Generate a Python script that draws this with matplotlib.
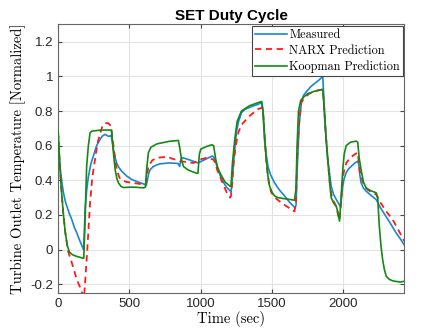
import matplotlib
matplotlib.use('Agg')
import matplotlib.pyplot as plt

# Measured
t_meas = [0, 5, 10, 18, 26, 37, 50, 61, 80, 96, 115, 131, 150, 165, 178, 183, 189, 200,
          212, 230, 247, 270, 294, 310, 329, 350, 364, 372, 380, 390, 400, 410, 425, 445,
          480, 515, 560, 608, 618, 625, 635, 645, 665, 690, 715, 780, 840, 852, 862, 875,
          930, 980, 1030, 1080, 1095, 1110, 1120, 1135, 1150, 1180, 1205, 1212, 1218, 1225,
          1238, 1250, 1265, 1285, 1310, 1340, 1370, 1401, 1427, 1436, 1448, 1460, 1471,
          1490, 1517, 1550, 1587, 1620, 1662, 1668, 1675, 1690, 1705, 1720, 1743, 1770,
          1800, 1830, 1855, 1862, 1870, 1880, 1890, 1914, 1930, 1949, 1977, 1985, 1995,
          2005, 2019, 2035, 2054, 2080, 2100, 2108, 2115, 2124, 2140, 2159, 2190, 2229,
          2260, 2299, 2330, 2369, 2400, 2427]
y_meas = [0.67, 0.58, 0.51, 0.44, 0.39, 0.33, 0.28, 0.25, 0.205, 0.173, 0.125, 0.096,
          0.055, 0.025, 0.0, 0.08, 0.23, 0.34, 0.42, 0.495, 0.54, 0.60, 0.636, 0.655,
          0.665, 0.655, 0.655, 0.66, 0.62, 0.57, 0.53, 0.50, 0.475, 0.453, 0.425, 0.405,
          0.39, 0.376, 0.37, 0.40, 0.44, 0.46, 0.478, 0.488, 0.495, 0.50, 0.497, 0.48,
          0.525, 0.53, 0.515, 0.50, 0.52, 0.54, 0.53, 0.49, 0.46, 0.43, 0.40, 0.36, 0.34,
          0.33, 0.38, 0.45, 0.578, 0.68, 0.74, 0.79, 0.81, 0.82, 0.83, 0.838, 0.85, 0.80,
          0.62, 0.54, 0.48, 0.43, 0.385, 0.345, 0.31, 0.275, 0.24, 0.26, 0.45, 0.72, 0.85,
          0.89, 0.914, 0.94, 0.96, 0.98, 1.0, 0.88, 0.76, 0.62, 0.52, 0.366, 0.32, 0.29,
          0.25, 0.29, 0.366, 0.41, 0.443, 0.465, 0.48, 0.50, 0.51, 0.49, 0.43, 0.385,
          0.355, 0.337, 0.315, 0.289, 0.24, 0.19, 0.15, 0.096, 0.06, 0.025]

# NARX prediction
t_narx = [0, 8, 20, 35, 50, 70, 96, 131, 160, 178, 185, 195, 206, 224, 240, 259, 275,
          294, 310, 329, 350, 364, 375, 388, 400, 411, 430, 446, 480, 528, 598, 615, 633,
          660, 692, 762, 855, 900, 949, 995, 1042, 1089, 1100, 1115, 1136, 1160, 1182,
          1206, 1212, 1220, 1230, 1245, 1265, 1285, 1340, 1400, 1430, 1438, 1450, 1462,
          1478, 1494, 1520, 1564, 1610, 1657, 1667, 1677, 1690, 1705, 1730, 1760, 1800,
          1855, 1862, 1875, 1890, 1905, 1914, 1930, 1949, 1962, 1972, 1982, 1992, 2000,
          2020, 2047, 2080, 2100, 2108, 2115, 2124, 2145, 2170, 2200, 2229, 2260, 2300,
          2345, 2380, 2427]
y_narx = [0.68, 0.55, 0.38, 0.22, 0.10, -0.01, -0.076, -0.173, -0.23, -0.28, -0.24,
          -0.12, 0.02, 0.27, 0.42, 0.52, 0.61, 0.67, 0.71, 0.73, 0.73, 0.72, 0.68, 0.60,
          0.52, 0.46, 0.415, 0.40, 0.39, 0.385, 0.375, 0.38, 0.48, 0.515, 0.53, 0.535,
          0.51, 0.505, 0.50, 0.52, 0.53, 0.52, 0.50, 0.46, 0.42, 0.37, 0.33, 0.30, 0.31,
          0.38, 0.50, 0.60, 0.68, 0.72, 0.77, 0.81, 0.82, 0.78, 0.62, 0.48, 0.38, 0.33,
          0.30, 0.27, 0.245, 0.22, 0.28, 0.55, 0.75, 0.85, 0.88, 0.90, 0.915, 0.925, 0.85,
          0.68, 0.52, 0.38, 0.32, 0.28, 0.25, 0.20, 0.17, 0.26, 0.38, 0.44, 0.50, 0.53,
          0.55, 0.56, 0.50, 0.45, 0.42, 0.37, 0.345, 0.33, 0.318, 0.27, 0.22, 0.173, 0.12,
          0.048]

# Koopman prediction
t_koop = [0, 8, 20, 35, 50, 65, 80, 100, 131, 175, 180, 190, 200, 212, 224, 236, 248,
          300, 364, 375, 385, 400, 412, 423, 440, 458, 500, 540, 598, 612, 620, 633, 650,
          692, 780, 843, 850, 865, 878, 910, 940, 972, 980, 990, 1000, 1040, 1077, 1090,
          1105, 1120, 1136, 1170, 1206, 1212, 1222, 1238, 1255, 1285, 1340, 1401, 1427,
          1436, 1448, 1459, 1470, 1482, 1500, 1517, 1540, 1575, 1657, 1667, 1675, 1685,
          1700, 1720, 1750, 1800, 1855, 1862, 1875, 1890, 1905, 1914, 1930, 1949, 1960,
          1972, 1980, 1995, 2005, 2019, 2050, 2089, 2100, 2110, 2124, 2140, 2159, 2190,
          2229, 2240, 2250, 2263, 2275, 2287, 2300, 2322, 2350, 2400, 2427]
y_koop = [0.68, 0.55, 0.38, 0.22, 0.10, 0.02, -0.015, -0.03, -0.04, -0.05, -0.05, 0.20,
          0.48, 0.60, 0.674, 0.684, 0.685, 0.69, 0.69, 0.69, 0.58, 0.46, 0.41, 0.385,
          0.365, 0.358, 0.36, 0.36, 0.356, 0.36, 0.46, 0.56, 0.59, 0.61, 0.625, 0.63, 0.60,
          0.52, 0.48, 0.46, 0.45, 0.44, 0.44, 0.55, 0.58, 0.595, 0.605, 0.60, 0.52, 0.47,
          0.44, 0.39, 0.365, 0.37, 0.50, 0.636, 0.74, 0.80, 0.83, 0.848, 0.855, 0.80, 0.65,
          0.52, 0.43, 0.366, 0.33, 0.31, 0.30, 0.295, 0.285, 0.35, 0.60, 0.80, 0.86, 0.88,
          0.90, 0.915, 0.925, 0.85, 0.68, 0.52, 0.37, 0.30, 0.27, 0.25, 0.22, 0.164, 0.25,
          0.46, 0.55, 0.60, 0.62, 0.626, 0.62, 0.53, 0.46, 0.39, 0.356, 0.34, 0.328, 0.30,
          0.15, 0.02, -0.06, -0.116, -0.155, -0.173, -0.182, -0.188, -0.183]

xticks = [0, 500, 1000, 1500, 2000]
yticks = [-0.2, 0, 0.2, 0.4, 0.6, 0.8, 1, 1.2]
ytick_labels = ['-0.2', '0', '0.2', '0.4', '0.6', '0.8', '1', '1.2']

fig = plt.figure(figsize=(4.47, 3.35), dpi=100)
ax = fig.add_axes([0.13, 0.126, 0.774, 0.801])

ax.plot(t_meas, y_meas, color='#1a86d0', lw=1.2, label='Measured', zorder=3)
ax.plot(t_narx, y_narx, color='#ff1a1a', lw=1.3, ls=(0, (3.5, 2.5)), label='NARX Prediction', zorder=4)
ax.plot(t_koop, y_koop, color='#138a13', lw=1.2, label='Koopman Prediction', zorder=5)

ax.set_xlim(0, 2425)
ax.set_ylim(-0.25, 1.3)
ax.set_xticks(xticks)
ax.set_yticks(yticks)
ax.set_yticklabels(ytick_labels)
ax.grid(True, color='#e3e3e3', lw=0.8)
ax.set_axisbelow(True)
ax.tick_params(direction='in', top=True, right=True, length=3, color='#444444',
               labelsize=9.5, labelcolor='#262626')
for lab in ax.get_xticklabels() + ax.get_yticklabels():
    lab.set_fontfamily('Liberation Sans')
for sp in ax.spines.values():
    sp.set_color('#666666')
    sp.set_linewidth(0.8)

ax.set_title('SET Duty Cycle', fontsize=11, fontweight='bold', fontfamily='Liberation Sans', pad=3)
ax.set_xlabel('Time (sec)', fontsize=10.5, fontfamily='cmr10', labelpad=1)
ax.set_ylabel('Turbine Outlet Temperature [Normalized]', fontsize=10.5, fontfamily='cmr10', labelpad=3)

leg = ax.legend(loc='upper right', prop={'family': 'cmr10', 'size': 8.8}, fancybox=False,
                edgecolor='#444444', framealpha=1, borderaxespad=0.1, borderpad=0.25,
                labelspacing=0.3, handlelength=2.6, handletextpad=0.2)
leg.get_frame().set_linewidth(0.8)

fig.savefig('out.png', dpi=100)
